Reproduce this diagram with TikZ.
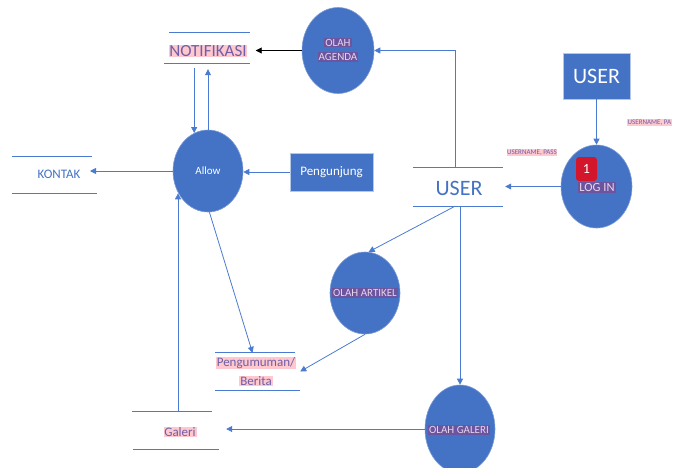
\documentclass[tikz,border=0pt]{standalone}
\usepackage{fontspec}
\setmainfont{Carlito}
\usetikzlibrary{shapes.geometric,arrows.meta}
\definecolor{cblue}{HTML}{4472C4}
\definecolor{cline}{HTML}{4A7BD0}
\definecolor{cpink}{HTML}{FFC7CE}
\definecolor{cpurp}{HTML}{6E5FA6}
\definecolor{chl}{HTML}{6B559E}
\definecolor{chltext}{HTML}{E8D4EC}
\definecolor{cred}{HTML}{D4162C}
\begin{document}
\begin{tikzpicture}[x=1pt,y=-1pt,
  proc/.style={ellipse,fill=cblue,draw=cblue!70!white,line width=0.6pt,minimum width=71pt,minimum height=84pt,inner sep=0pt},
  ent/.style={rectangle,fill=cblue,draw=cblue!40!white,line width=0.8pt,text=white,inner sep=0pt},
  hl/.style={fill=chl,text=chltext,inner sep=1pt},
  pk/.style={fill=cpink,text=cpurp,inner sep=0.8pt},
  store/.style={inner sep=0pt},
  sline/.style={draw=cline,line width=0.8pt},
  arr/.style={draw=cline,line width=0.8pt,-{Triangle[width=6pt,length=6pt]}},
]
\useasboundingbox (0,0) rectangle (674,467);

% processes
\node[proc,minimum width=72pt,minimum height=86pt] (agenda) at (338,50.5) {};
\node[hl,font=\fontsize{11}{13}\selectfont] (agt1) at (338,42.5) {OLAH};
\node[hl,font=\fontsize{11}{13}\selectfont] (agt2) at (338,57) {AGENDA};

\node[proc,minimum width=70pt,minimum height=82pt,text=white,font=\fontsize{11}{13}\selectfont] (allow) at (208,171) {Allow};

\node[proc,minimum width=71pt,minimum height=83pt] (login) at (596.5,186.5) {};
\node[hl,font=\fontsize{12.5}{14}\selectfont] (logintext) at (597,187.5) {LOG IN};
\node[fill=cred,rounded corners=3pt,minimum width=21pt,minimum height=24pt,inner sep=0pt,text=white,font=\fontsize{14}{16}\selectfont] (badge) at (586.5,169) {1};

\node[proc,minimum width=70pt,minimum height=82pt] (artikel) at (365,293) {};
\node[hl,font=\fontsize{11}{13}\selectfont] (arttext) at (365,293) {OLAH ARTIKEL};

\node[proc,minimum width=70pt,minimum height=88pt] (ogal) at (460,429) {};
\node[hl,font=\fontsize{11}{13}\selectfont] (ogaltext) at (459,430) {OLAH GALERI};

% entities
\node[ent,minimum width=83pt,minimum height=38pt,font=\fontsize{13}{15}\selectfont] (peng) at (331.5,172) {Pengunjung};
\node[ent,minimum width=67pt,minimum height=46pt,font=\fontsize{22}{26}\selectfont] (ubox) at (596.5,76) {USER};

% data stores
\node[store,minimum width=85pt,minimum height=30pt] (notif) at (207,48) {};
\node[pk,font=\fontsize{17}{20}\selectfont] (notiftext) at (208,51) {NOTIFIKASI};
\draw[sline] ([xshift=5pt]notif.north west) -- (notif.north east);
\draw[sline] (notif.south west) -- (notif.south east);

\node[store,minimum width=85pt,minimum height=36pt] (kontak) at (54.5,175) {};
\node[text=cblue,inner sep=0pt,font=\fontsize{13}{15}\selectfont] (kontaktext) at (59,174) {KONTAK};
\draw[sline] (kontak.north west) -- ([xshift=-5pt]kontak.north east);
\draw[sline] (kontak.south west) -- (kontak.south east);
\coordinate (kend) at (90,171);

\node[store,minimum width=90pt,minimum height=38pt] (ustore) at (458,187) {};
\node[text=cblue,inner sep=0pt,font=\fontsize{22}{26}\selectfont] (ustoretext) at (459,188) {USER};
\draw[sline] (ustore.north west) -- (ustore.north east);
\draw[sline] (ustore.south west) -- (ustore.south east);

\node[store,minimum width=85pt,minimum height=37pt] (pgm) at (257.5,371.5) {};
\node[pk,font=\fontsize{13}{15}\selectfont] (pgm1) at (256,363) {Pengumuman/};
\node[pk,font=\fontsize{13}{15}\selectfont] (pgm2) at (256,381) {Berita};
\draw[sline] (pgm.north west) -- ([xshift=-5pt]pgm.north east);
\draw[sline] (pgm.south west) -- (pgm.south east);

\node[store,minimum width=87pt,minimum height=37pt] (gal) at (178,430.5) {};
\node[pk,font=\fontsize{13}{15}\selectfont] (galtext) at (180,432) {Galeri};
\draw[sline] ([xshift=-2.5pt]gal.north west) -- ([xshift=-9.5pt]gal.north east);
\draw[sline] ([xshift=-1.5pt]gal.south west) -- ([xshift=-2.5pt]gal.south east);

% labels
\node[pk,font=\fontsize{7}{8}\selectfont,inner sep=0.5pt] (lab1) at (532,152.5) {USERNAME, PASS};
\node[pk,font=\fontsize{7}{8}\selectfont,inner sep=0.5pt,anchor=west] (lab2) at (627,122.5) {USERNAME, PA};

% connectors
\draw[line width=0.9pt,black,-{Triangle[width=6pt,length=6pt]},shorten >=6pt] (agenda.west) -- (agenda.west -| notif.east);
\draw[arr,shorten <=5pt] (allow.110 |- notif.south) -- (allow.110);
\draw[arr,shorten >=6pt] (allow.north) -- (allow.north |- notif.south);
\draw[arr] (allow.west |- kend) -- (kend);
\draw[arr] (peng.west) -- (peng.west -| allow.east);
\draw[arr] (gal.north) -- (gal.north |- allow.217);
\draw[arr] (allow.272) -- ([xshift=-5pt]pgm.north);
\draw[arr] (artikel.south) -- (pgm.east);
\draw[arr] ([xshift=-3pt]ustore.south) -- (artikel.85);
\draw[arr] (ogal.north |- ustore.south) -- (ogal.north);
\draw[arr] ([xshift=-3pt]ustore.north) |- (agenda.east);
\draw[arr] (ubox.south) -- (login.north);
\draw[arr,shorten >=2pt] (login.west) -- (login.west -| ustore.east);
\draw[arr,shorten >=4.5pt] (ogal.west) -- (ogal.west -| gal.east);
\end{tikzpicture}
\end{document}
